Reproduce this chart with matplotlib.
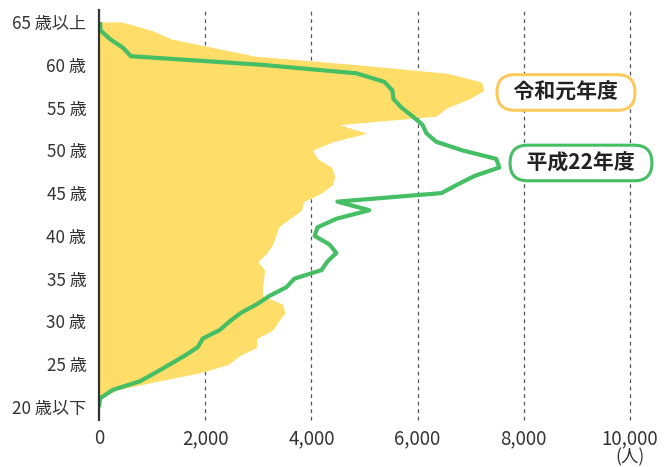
import matplotlib
matplotlib.use("Agg")
import matplotlib.pyplot as plt

plt.rcParams['font.family'] = ['Noto Sans CJK JP', 'DejaVu Sans']

# 年齢別人数 (人)
edades = [20, 21, 22, 23, 24, 25, 26, 27, 28, 29,
          30, 31, 32, 33, 34, 35, 36, 37, 38, 39,
          40, 41, 42, 43, 44, 45, 46, 47, 48, 49,
          50, 51, 52, 53, 54, 55, 56, 57, 58, 59,
          60, 61, 62, 63, 64, 65]

reiwa = [0, 0, 340, 1090, 1900, 2440, 2650, 2970, 2970, 3270,
         3380, 3500, 3460, 3080, 3080, 3100, 3120, 2990, 3160, 3270,
         3330, 3380, 3590, 3815, 3850, 4190, 4400, 4440, 4380, 4120,
         4020, 4400, 5040, 4530, 6350, 6560, 6970, 7250, 7200, 6560,
         4870, 2950, 2160, 1370, 1000, 430]

heisei = [0, 20, 260, 770, 1060, 1340, 1615, 1860, 1955, 2275,
          2460, 2670, 2970, 3215, 3530, 3680, 4190, 4300, 4470, 4340,
          4060, 4115, 4470, 5090, 4490, 6450, 6750, 7070, 7540, 7480,
          6840, 6350, 6165, 6090, 5900, 5695, 5545, 5525, 5375, 4850,
          3050, 600, 450, 207, 30, 20]

y_ticks = [20, 25, 30, 35, 40, 45, 50, 55, 60, 65]
y_labels = ["20 歳以下", "25 歳", "30 歳", "35 歳", "40 歳",
            "45 歳", "50 歳", "55 歳", "60 歳", "65 歳以上"]
x_ticks = [0, 2000, 4000, 6000, 8000, 10000]
x_labels = ["0", "2,000", "4,000", "6,000", "8,000", "10,000"]

amarillo = '#FEDD68'
borde_amarillo = '#FBC95C'
verde = '#45BE64'
texto = '#333333'

fig = plt.figure(figsize=(6.71, 4.67), dpi=100)
ax = fig.add_axes([99 / 671, 1 - 420 / 467, 531 / 671, 410 / 467])

for v in x_ticks[1:]:
    ax.axvline(v, color='#555555', lw=0.9, ls=(0, (3, 3)), zorder=1, clip_on=False)

ax.fill_betweenx(edades, 0, reiwa, color=amarillo, lw=0, zorder=2)
ax.plot(heisei, edades, color=verde, lw=3, zorder=3,
        solid_joinstyle='round', solid_capstyle='butt')

ax.set_xlim(0, 10000)
ax.set_ylim(18.48, 66.4)

ax.set_yticks(y_ticks)
ax.set_yticklabels(y_labels, fontsize=12.3, color=texto)
ax.set_xticks(x_ticks)
ax.set_xticklabels(x_labels, fontsize=13.5, color=texto)
ax.tick_params(axis='y', length=0, pad=9)
ax.tick_params(axis='x', length=0, pad=6)

for lado in ['top', 'right', 'bottom']:
    ax.spines[lado].set_visible(False)
ax.spines['left'].set_linewidth(1.6)
ax.spines['left'].set_color('#333333')
ax.spines['left'].set_zorder(4)

ax.text(10000, -0.092, "(人)", transform=ax.get_xaxis_transform(),
        ha='center', va='center', fontsize=12.5, color=texto)

ax.text(8795, 56.76, "  令和元年度  ", ha='center', va='center',
        fontsize=15, fontweight='bold', color='#222222', zorder=5,
        bbox=dict(boxstyle='round,pad=0.35,rounding_size=0.84',
                  fc='white', ec=borde_amarillo, lw=2.2))
ax.text(9077, 48.52, "  平成22年度  ", ha='center', va='center',
        fontsize=15, fontweight='bold', color='#222222', zorder=5,
        bbox=dict(boxstyle='round,pad=0.35,rounding_size=0.84',
                  fc='white', ec=verde, lw=2.2))

fig.savefig("out.png", dpi=100)
